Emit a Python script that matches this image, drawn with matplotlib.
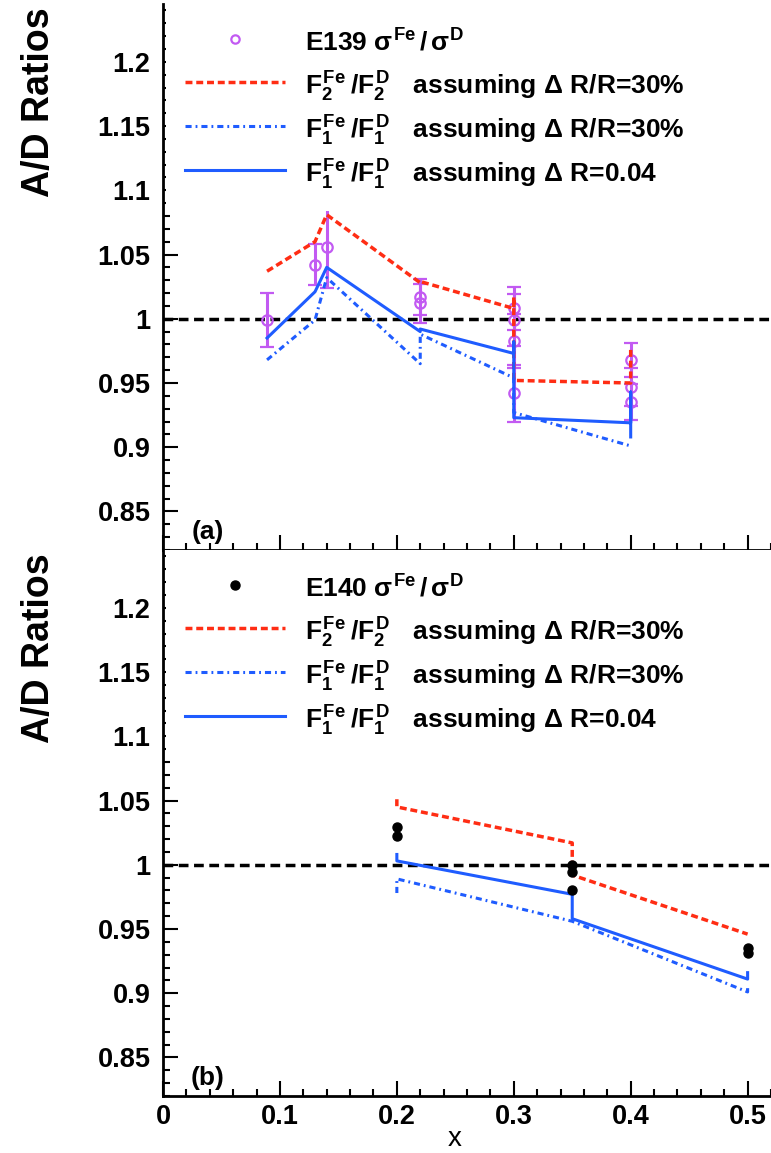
import matplotlib
matplotlib.use('Agg')
import matplotlib.pyplot as plt
from matplotlib.lines import Line2D
from matplotlib.ticker import MultipleLocator, FuncFormatter

plt.rcParams['font.family'] = ['Liberation Sans', 'DejaVu Sans']
plt.rcParams['font.weight'] = 'bold'
plt.rcParams['mathtext.fontset'] = 'custom'
plt.rcParams['mathtext.rm'] = 'Liberation Sans:bold'
plt.rcParams['mathtext.it'] = 'Liberation Sans:bold'
plt.rcParams['mathtext.bf'] = 'Liberation Sans:bold'
plt.rcParams['mathtext.sf'] = 'Liberation Sans:bold'

# E139 Fe/D cross section ratios (panel a)
x_e139 = [0.089, 0.13, 0.14, 0.22, 0.22, 0.30, 0.30, 0.30, 0.30, 0.40, 0.40, 0.40]
ratio_e139 = [0.999, 1.042, 1.056, 1.017, 1.012, 1.008, 0.999, 0.983, 0.942, 0.968, 0.947, 0.935]
err_e139 = [0.021, 0.016, 0.032, 0.014, 0.015, 0.017, 0.020, 0.021, 0.022, 0.013, 0.015, 0.014]

# model curves for panel a
x_f2_a = [0.089, 0.13, 0.14, 0.22, 0.22, 0.30, 0.30, 0.30, 0.40, 0.40]
f2_rr_a = [1.037, 1.060, 1.081, 1.028, 1.029, 1.008, 1.017, 0.952, 0.950, 0.978]
x_f1_a = [0.089, 0.13, 0.14, 0.22, 0.22, 0.30, 0.30, 0.40]
f1_rr_a = [0.968, 0.999, 1.032, 0.965, 0.988, 0.954, 0.927, 0.901]
x_f1r_a = [0.089, 0.13, 0.14, 0.22, 0.22, 0.30, 0.30, 0.30, 0.40, 0.40, 0.40]
f1_dr_a = [0.985, 1.021, 1.040, 0.990, 0.992, 0.973, 0.982, 0.923, 0.919, 0.943, 0.908]

# E140 Fe/D cross section ratios (panel b)
x_e140 = [0.20, 0.20, 0.35, 0.35, 0.35, 0.50, 0.50]
ratio_e140 = [1.029, 1.022, 1.000, 0.994, 0.980, 0.935, 0.931]

# model curves for panel b
x_f2_b = [0.20, 0.20, 0.35, 0.35, 0.50]
f2_rr_b = [1.051, 1.045, 1.017, 0.992, 0.946]
x_f1_b = [0.20, 0.20, 0.35, 0.50, 0.50]
f1_rr_b = [0.978, 0.989, 0.956, 0.901, 0.905]
x_f1r_b = [0.20, 0.20, 0.35, 0.35, 0.50, 0.50]
f1_dr_b = [1.008, 1.003, 0.977, 0.958, 0.911, 0.916]

RED = '#ff2d14'
BLUE = '#1f5cff'
PURPLE = '#c25af2'
DASH = (0, (2.0, 1.1))
DASHDOT = (0, (2.0, 1.3, 0.6, 1.3))

labels = [r'$F_2^{Fe}\:/F_2^{D}\quad$assuming Δ R/R=30%',
          r'$F_1^{Fe}\:/F_1^{D}\quad$assuming Δ R/R=30%',
          r'$F_1^{Fe}\:/F_1^{D}\quad$assuming Δ R=0.04']


def style_axis(ax, show_xlabels):
    ax.set_xlim(0, 0.52)
    ax.set_ylim(0.82, 1.245)
    for s in ['top', 'right']:
        ax.spines[s].set_visible(False)
    for s in ['left', 'bottom']:
        ax.spines[s].set_linewidth(2.0)
    ax.xaxis.set_major_locator(MultipleLocator(0.1))
    ax.xaxis.set_minor_locator(MultipleLocator(0.02))
    ax.yaxis.set_major_locator(MultipleLocator(0.05))
    ax.yaxis.set_minor_locator(MultipleLocator(0.01))
    ax.tick_params(which='both', direction='in', top=False, right=False, width=1.5)
    ax.tick_params(which='major', length=11)
    ax.tick_params(which='minor', length=5)
    ax.tick_params(axis='y', labelsize=19.5, pad=9)
    ax.tick_params(axis='x', labelsize=19.5, pad=6, labelbottom=show_xlabels)
    ax.yaxis.set_major_formatter(FuncFormatter(lambda v, p: '' if v > 1.22 else f'{v:g}'))
    ax.xaxis.set_major_formatter(FuncFormatter(lambda v, p: f'{v:g}'))
    ax.axhline(1.0, color='black', lw=2.5, ls=(0, (2.8, 1.6)), zorder=1)
    ax.text(-0.204, 0.82, 'A/D Ratios', transform=ax.transAxes, rotation=90,
            ha='center', va='center', fontsize=27)


def draw_models(ax, x2, f2, x1, f1, x1r, f1r):
    ax.plot(x2, f2, color=RED, lw=2.5, ls=DASH, zorder=3)
    ax.plot(x1, f1, color=BLUE, lw=2.2, ls=DASHDOT, zorder=3)
    ax.plot(x1r, f1r, color=BLUE, lw=2.2, zorder=3)


def add_legend(ax, data_handle, data_label):
    handles = [data_handle,
               Line2D([], [], color=RED, lw=2.5, ls=DASH),
               Line2D([], [], color=BLUE, lw=2.2, ls=DASHDOT),
               Line2D([], [], color=BLUE, lw=2.2)]
    ax.legend(handles, [data_label] + labels, loc='upper left',
              bbox_to_anchor=(0.005, 0.995), fontsize=19, handlelength=3.8,
              handleheight=1.6, handletextpad=0.76, labelspacing=0.35,
              borderpad=0.72, borderaxespad=0, frameon=True, fancybox=False,
              facecolor='white', edgecolor='none', framealpha=1)


fig = plt.figure(figsize=(7.71, 11.53), dpi=100)
left = 163 / 771
h = 546 / 1153
ax_a = fig.add_axes([left, 1 - 550 / 1153, 1 - left, h])
ax_b = fig.add_axes([left, 1 - 1096 / 1153, 1 - left, h])

# panel (a)
style_axis(ax_a, False)
ax_a.errorbar(x_e139, ratio_e139, yerr=err_e139, fmt='o', mfc='none', mec=PURPLE,
              mew=1.6, ms=7.5, ecolor=PURPLE, elinewidth=2.2, capsize=5,
              capthick=3.5, zorder=2)
draw_models(ax_a, x_f2_a, f2_rr_a, x_f1_a, f1_rr_a, x_f1r_a, f1_dr_a)
add_legend(ax_a, Line2D([], [], ls='none', marker='o', mfc='none', mec=PURPLE,
                        mew=1.6, ms=6),
           r'E139 $σ^{Fe}\,/\,σ^{D}$')
ax_a.text(0.074, 0.033, '(a)', transform=ax_a.transAxes, fontsize=19,
          ha='center', va='center')

# panel (b)
style_axis(ax_b, True)
draw_models(ax_b, x_f2_b, f2_rr_b, x_f1_b, f1_rr_b, x_f1r_b, f1_dr_b)
ax_b.plot(x_e140, ratio_e140, 'o', color='black', ms=6.5, zorder=4)
add_legend(ax_b, Line2D([], [], ls='none', marker='o', color='black', ms=6.5),
           r'E140 $σ^{Fe}\,/\,σ^{D}$')
ax_b.text(0.074, 0.033, '(b)', transform=ax_b.transAxes, fontsize=19,
          ha='center', va='center')
ax_b.set_xlabel('x', fontsize=20, va='baseline')
ax_b.xaxis.set_label_coords(0.48, -0.0916)

fig.savefig('out.png', dpi=100)
